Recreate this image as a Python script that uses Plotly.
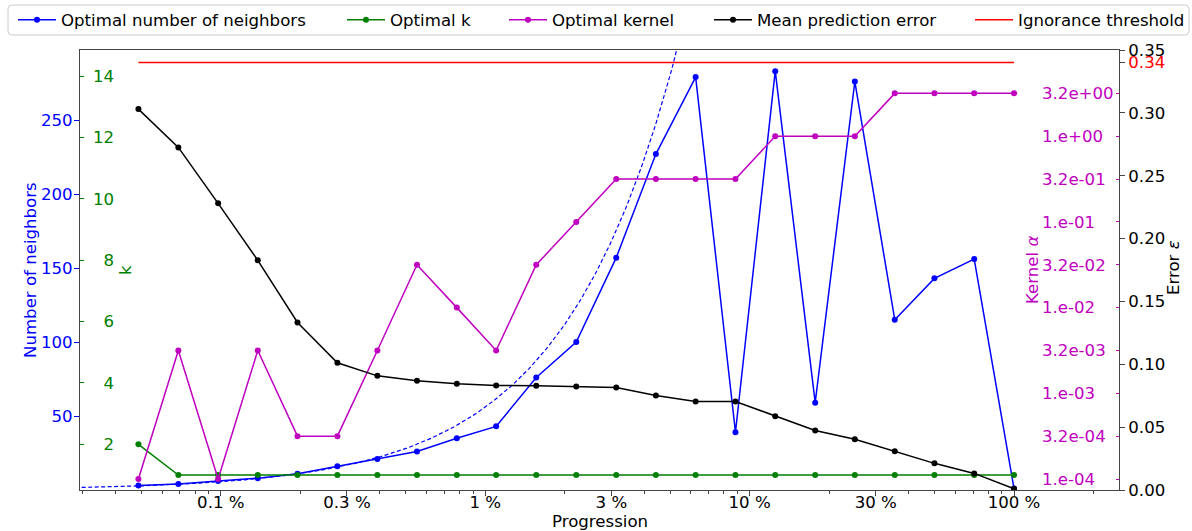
import numpy as np
import plotly.graph_objects as go

# ---------------------------------------------------------------------------
# Data: optimal hyper-parameters and error versus training-set progression
# ---------------------------------------------------------------------------
progression = [0.0488, 0.0691, 0.0977, 0.138, 0.195, 0.276, 0.391, 0.552,
               0.781, 1.10, 1.56, 2.21, 3.13, 4.42, 6.25, 8.84, 12.5, 17.7,
               25.0, 35.4, 50.0, 70.7, 100.0]                      # percent
neighbors = [3, 4, 6, 8, 11, 16, 21, 26, 35, 43, 76, 100, 157, 227, 279, 39,
             283, 59, 276, 115, 143, 156, 1]
k_opt = [2, 1, 1, 1, 1, 1, 1, 1, 1, 1, 1, 1, 1, 1, 1, 1, 1, 1, 1, 1, 1, 1, 1]
kernel_alpha = [1e-4, 3.162e-3, 1e-4, 3.162e-3, 3.162e-4, 3.162e-4, 3.162e-3,
                3.162e-2, 1e-2, 3.162e-3, 3.162e-2, 1e-1, 3.162e-1, 3.162e-1,
                3.162e-1, 3.162e-1, 1.0, 1.0, 1.0, 3.162, 3.162, 3.162, 3.162]
mean_error = [0.303, 0.2725, 0.228, 0.1827, 0.1333, 0.1012, 0.0908, 0.0869,
              0.0845, 0.0831, 0.0829, 0.0823, 0.0815, 0.0751, 0.0704, 0.0704,
              0.0587, 0.0473, 0.0403, 0.0308, 0.0212, 0.0132, 0.001]
ignorance_threshold = 0.34
fit_slope = 56.0          # neighbours per percent (linear growth law)

x_tickvals = [0.1, 0.3, 1, 3, 10, 30, 100]
x_ticktext = ["0.1 %", "0.3 %", "1 %", "3 %", "10 %", "30 %", "100 %"]
neighbor_ticks = [50, 100, 150, 200, 250]
k_ticks = [2, 4, 6, 8, 10, 12, 14]
kernel_ticktext = ["1.e-04", "3.2e-04", "1.e-03", "3.2e-03", "1.e-02",
                   "3.2e-02", "1.e-01", "3.2e-01", "1.e+00", "3.2e+00"]
error_ticks = [0.0, 0.05, 0.10, 0.15, 0.20, 0.25, 0.30, 0.35]

# ---------------------------------------------------------------------------
# Canvas geometry (pixels) and helpers to convert to paper coordinates
# ---------------------------------------------------------------------------
W, H = 1192, 531
PL, PR, PT, PB = 80, 1119, 50, 490


def px_x(px):
    return (px - PL) / (PR - PL)


def px_y(py):
    return (PB - py) / (PB - PT)


FONT = "DejaVu Sans"
FS = 16.6
BLUE, GREEN, MAGENTA, BLACK, RED = "#0000ff", "#008000", "#bf00bf", "#000000", "#ff0000"
SPINE = "#444444"

x_range = [-1.5325, 2.397]
n_range = [0, 297.3]
k_range = [0.511, 14.85]
kernel_range = [-4.128, 1.006]
err_range = [0, 0.35]

kernel_tickvals = [10 ** (-4 + 0.5 * i) for i in range(len(kernel_ticktext))]
minor_x = [m * 10.0 ** e for e in range(-2, 3) for m in range(2, 10)
           if 10 ** x_range[0] <= m * 10.0 ** e <= 10 ** x_range[1]]

fit_x = np.logspace(-1.6, 1.0, 400)
fit_y = fit_slope * fit_x

fig = go.Figure()

fig.add_trace(go.Scatter(
    x=progression, y=neighbors, mode="lines+markers", name="Optimal number of neighbors",
    line=dict(color=BLUE, width=1.5), marker=dict(color=BLUE, size=6),
    yaxis="y", legend="legend"))
fig.add_trace(go.Scatter(
    x=fit_x, y=fit_y, mode="lines", showlegend=False, hoverinfo="skip",
    line=dict(color=BLUE, width=1.2, dash="4px,2.5px"), yaxis="y"))
fig.add_trace(go.Scatter(
    x=progression, y=k_opt, mode="lines+markers", name="Optimal k",
    line=dict(color=GREEN, width=1.5), marker=dict(color=GREEN, size=6),
    yaxis="y2", legend="legend2"))
fig.add_trace(go.Scatter(
    x=progression, y=kernel_alpha, mode="lines+markers", name="Optimal kernel",
    line=dict(color=MAGENTA, width=1.5), marker=dict(color=MAGENTA, size=6),
    yaxis="y3", legend="legend3"))
fig.add_trace(go.Scatter(
    x=progression, y=mean_error, mode="lines+markers", name="Mean prediction error",
    line=dict(color=BLACK, width=1.5), marker=dict(color=BLACK, size=6),
    yaxis="y4", legend="legend4"))
fig.add_trace(go.Scatter(
    x=[progression[0], progression[-1]], y=[ignorance_threshold] * 2, mode="lines",
    name="Ignorance threshold", line=dict(color=RED, width=1.5),
    yaxis="y4", legend="legend5"))
# empty holders so the inner label columns of the k and kernel scales are drawn
for ax in ("y5", "y6"):
    fig.add_trace(go.Scatter(x=[], y=[], yaxis=ax, showlegend=False, hoverinfo="skip"))

tick_font = dict(family=FONT, size=FS)

layout = dict(
    width=W, height=H,
    margin=dict(l=PL, r=W - PR, t=PT, b=H - PB, pad=0, autoexpand=False),
    paper_bgcolor="white", plot_bgcolor="white",
    font=dict(family=FONT, size=FS, color=BLACK),
    xaxis=dict(
        type="log", range=x_range, domain=[0, 1],
        tickmode="array", tickvals=x_tickvals, ticktext=x_ticktext,
        ticks="outside", ticklen=5, tickcolor=SPINE, tickfont=dict(tick_font, color=BLACK),
        ticklabelstandoff=-8,
        minor=dict(tickvals=minor_x, ticks="outside", ticklen=2.5, tickcolor=SPINE),
        showline=True, linecolor=SPINE, linewidth=1, mirror=True,
        showgrid=False, zeroline=False),
    yaxis=dict(
        range=n_range, tickmode="array", tickvals=neighbor_ticks,
        ticks="outside", ticklen=5, tickcolor=BLUE, tickfont=dict(tick_font, color=BLUE),
        ticklabelstandoff=-2,
        showline=True, linecolor=SPINE, linewidth=1,
        showgrid=False, zeroline=False),
    yaxis2=dict(
        overlaying="y", side="left", anchor="x", range=k_range,
        tickmode="array", tickvals=k_ticks, ticks="inside", ticklen=3.5, tickcolor=GREEN,
        showticklabels=False, showline=False, showgrid=False, zeroline=False),
    yaxis3=dict(
        overlaying="y", side="right", anchor="x", type="log", range=kernel_range,
        tickmode="array", tickvals=kernel_tickvals, ticks="inside", ticklen=3.5,
        tickcolor=MAGENTA, showticklabels=False, showline=False, showgrid=False,
        zeroline=False),
    yaxis4=dict(
        overlaying="y", side="right", anchor="x", range=err_range,
        tickmode="array", tickvals=error_ticks + [ignorance_threshold],
        ticktext=["%.2f" % v for v in error_ticks]
        + ["<span style='color:%s'>%.2f</span>" % (RED, ignorance_threshold)],
        ticks="outside", ticklen=5, tickcolor=SPINE, tickfont=dict(tick_font, color=BLACK),
        showline=True, linecolor=SPINE, linewidth=1, showgrid=False, zeroline=False),
    # label columns for the k and kernel scales, drawn inside the frame
    yaxis5=dict(
        overlaying="y", side="left", anchor="free", position=px_x(114), range=k_range,
        tickmode="array", tickvals=k_ticks, ticks="", tickfont=dict(tick_font, color=GREEN),
        showline=False, showgrid=False, zeroline=False),
    yaxis6=dict(
        overlaying="y", side="right", anchor="free", position=px_x(1041), type="log",
        range=kernel_range, tickmode="array", tickvals=kernel_tickvals,
        ticktext=kernel_ticktext, ticks="", tickfont=dict(tick_font, color=MAGENTA),
        showline=False, showgrid=False, zeroline=False),
)

# one legend per entry so that the row spacing follows the label widths
legend_text_px = [61, 390, 552, 757, 1018]
for i, tx in enumerate(legend_text_px):
    key = "legend" if i == 0 else "legend%d" % (i + 1)
    layout[key] = dict(
        x=px_x(tx - 48), y=px_y(20), xanchor="left", yanchor="middle",
        orientation="h", bgcolor="rgba(0,0,0,0)", borderwidth=0, itemwidth=38,
        font=dict(family=FONT, size=FS, color=BLACK))

# legend frame (rounded rectangle)
bx0, by0, bx1, by1, rad = 8, 5, 1189, 35, 4
rx, ry = rad / (PR - PL), rad / (PB - PT)
X0, X1, Y0, Y1 = px_x(bx0), px_x(bx1), px_y(by1), px_y(by0)
frame = (f"M{X0 + rx},{Y1} L{X1 - rx},{Y1} Q{X1},{Y1} {X1},{Y1 - ry} "
         f"L{X1},{Y0 + ry} Q{X1},{Y0} {X1 - rx},{Y0} L{X0 + rx},{Y0} "
         f"Q{X0},{Y0} {X0},{Y0 + ry} L{X0},{Y1 - ry} Q{X0},{Y1} {X0 + rx},{Y1} Z")
layout["shapes"] = [dict(type="path", xref="paper", yref="paper", path=frame,
                         line=dict(color="#cccccc", width=1), fillcolor="rgba(255,255,255,0.8)",
                         layer="above")]


def title(text, px, py, color, angle=-90):
    return dict(text=text, xref="paper", yref="paper", x=px_x(px), y=px_y(py),
                xanchor="center", yanchor="middle", showarrow=False, textangle=angle,
                font=dict(family=FONT, size=FS, color=color))


layout["annotations"] = [
    title("Number of neighbors", 30, 270, BLUE),
    title("k", 125, 270, GREEN),
    title("Kernel <i>α</i>", 1032, 270, MAGENTA),
    title("Error <i>ε</i>", 1173, 268, BLACK),
    title("Progression", 600, 521, BLACK, angle=0),
]

fig.update_layout(**layout)
fig.write_html("out.html")
